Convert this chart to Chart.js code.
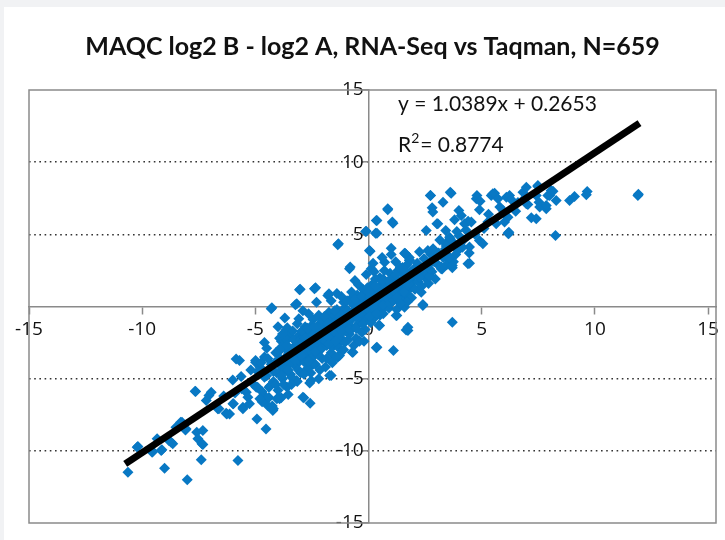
<!DOCTYPE html>
<html>
<head>
<meta charset="utf-8">
<script src="https://cdn.jsdelivr.net/npm/chart.js@4.4.1/dist/chart.umd.min.js"></script>
<style>
  body { margin: 0; background: #f1f2f4; }
  #wrap { position: absolute; left: 4px; top: 7px; width: 721px; height: 533px; background: #fff; }
</style>
</head>
<body>
<div id="wrap"><canvas id="maqc_chart" width="721" height="533"></canvas></div>
<script>
var chartTitle = "MAQC log2 B - log2 A, RNA-Seq vs Taqman, N=659";
var fitText = "y = 1.0389x + 0.2653";
var r2Text = "= 0.8774";
var axisTicks = [-15, -10, -5, 0, 5, 10, 15];
var dottedLevels = [-10, -5, 5, 10];

// Taqman (x) vs RNA-Seq (y)
var points = [
  // lower left tail
  [-10.63,-11.48],[-10.19,-9.70],[-10.22,-9.75],[-9.56,-10.10],[-9.53,-10.05],[-9.34,-9.17],[-9.16,-9.98],
  [-9.13,-9.93],[-9.01,-11.20],[-8.82,-9.29],[-8.72,-9.40],[-8.65,-9.51],[-8.51,-8.37],[-8.30,-8.02],
  [-8.24,-8.02],[-8.09,-8.55],[-8.06,-8.48],[-8.01,-12.01],[-7.66,-5.87],[-7.64,-5.89],[-7.59,-8.71],
  [-7.54,-9.17],[-7.39,-10.62],[-7.36,-9.51],[-7.32,-8.59],[-7.32,-9.56],[-7.17,-6.51],[-7.05,-6.17],
  [-6.95,-5.94],[-6.66,-7.09],[-6.61,-7.09],[-6.29,-7.39],[-6.26,-7.44],[-6.14,-7.44],[-5.99,-6.74],
  [-5.97,-6.74],[-5.85,-3.63],[-5.77,-10.67],[-5.70,-3.74],[-5.63,-4.85],[-5.55,-6.98],[-5.55,-7.09],
  [-5.40,-5.94],[-5.33,-6.28],[-5.26,-6.74],[-5.11,-5.36],[-4.99,-3.86],[-4.99,-3.74],[-4.96,-5.59],
  [-4.93,-7.79],[-4.53,-8.48],[-4.53,-6.28],[-4.46,-6.86],[-4.23,-7.21],[-4.20,-7.09],[-3.93,-6.39],
  [-3.86,-6.33],[-3.30,-5.18],[-3.19,-5.13],[-2.90,-6.28],[-2.86,-6.33],[-2.58,-6.70],[-2.53,-5.13],
  [-2.46,-4.02],[-1.72,-4.78],[-1.65,-4.78],[-1.36,-3.51],[-0.72,-3.17],[-5.2,-4.4],[-5.6,-5.7],
  [-6.0,-5.1],[-6.4,-6.2],[-5.9,-6.0],[-4.7,-6.6],[-4.4,-5.6],
  // upper left of the band
  [-4.30,-0.16],[-4.27,-0.09],[-3.93,-2.2],[-3.64,-1.62],[-3.59,-1.48],[-3.23,0.12],[-3.17,0.19],
  [-3.08,-0.85],[-3.05,1.16],[-3.02,1.20],[-2.39,1.23],[-2.34,1.30],[-1.80,0.76],[-1.75,0.88],
  [-1.36,4.28],[-1.33,4.35],[-0.84,2.61],[-0.81,2.73],[-0.10,2.22],[-0.10,5.22],[-0.13,5.20],
  [0.04,3.88],[0.07,3.83],[0.12,2.61],[0.31,5.08],[0.34,5.96],[0.37,5.96],[0.37,5.08],[0.71,3.07],
  [0.85,6.70],[0.85,6.77],[1.00,4.04],[1.05,5.85],[1.08,5.77],[1.59,3.69],[1.63,3.65],[1.81,3.23],
  // below the band, right side
  [-1.28,-3.40],[-0.69,-3.17],[0.34,-2.86],[0.37,-2.82],[0.49,-1.32],[1.10,-3.05],[1.22,-0.62],
  [1.25,-0.62],[1.59,-0.05],[1.66,-1.62],[1.74,-1.66],[1.74,-1.43],[2.18,2.15],[2.40,0.14],[2.40,0.07],
  [2.33,0.99],[2.25,2.03],[3.70,-1.09],[1.63,0.64],[1.66,0.53],
  // core, x -5 .. -4
  [-4.9,-5.6],[-4.8,-4.2],[-4.7,-5.9],[-4.6,-3.5],[-4.5,-4.8],[-4.4,-6.3],[-4.3,-4.0],[-4.2,-5.2],
  [-4.1,-3.2],[-4.05,-4.6],[-4.9,-4.5],[-4.6,-4.9],[-4.35,-5.5],[-4.15,-3.9],[-4.0,-5.8],[-4.75,-3.9],
  [-4.5,-2.9],[-4.25,-6.9],[-4.45,-3.6],[-4.2,-4.5],[-4.1,-5.4],[-4.8,-6.4],[-4.05,-6.4],[-4.6,-2.5],
  // core, x -4 .. -3
  [-3.95,-3.1],[-3.9,-4.5],[-3.85,-2.4],[-3.8,-5.0],[-3.75,-3.7],[-3.7,-2.9],[-3.65,-4.2],[-3.6,-5.6],
  [-3.55,-3.3],[-3.5,-2.1],[-3.45,-4.7],[-3.4,-3.6],[-3.35,-1.7],[-3.3,-2.8],[-3.25,-4.1],[-3.2,-3.2],
  [-3.15,-5.2],[-3.1,-2.5],[-3.05,-3.8],[-3.0,-1.9],[-3.9,-3.6],[-3.7,-4.4],[-3.5,-3.0],[-3.3,-3.5],
  [-3.1,-4.4],[-3.6,-2.3],[-3.4,-4.9],[-3.2,-2.2],[-3.8,-1.9],[-3.0,-4.6],[-3.45,-3.9],[-3.15,-1.2],
  [-3.55,-6.1],[-3.75,-5.4],[-3.95,-4.0],[-3.65,-3.5],[-3.35,-3.0],[-3.05,-2.7],[-3.85,-4.8],[-3.55,-4.4],
  [-3.25,-3.7],[-3.9,-2.9],[-3.6,-2.7],[-3.3,-2.3],[-3.0,-2.3],[-3.4,-5.4],[-4.0,-1.4],[-3.7,-0.8],
  // core, x -3 .. -2
  [-2.95,-2.9],[-2.9,-3.6],[-2.85,-2.1],[-2.8,-1.4],[-2.75,-3.2],[-2.7,-4.3],[-2.65,-2.6],[-2.6,-1.8],
  [-2.55,-3.5],[-2.5,-2.3],[-2.45,-0.9],[-2.4,-2.9],[-2.35,-4.0],[-2.3,-1.6],[-2.25,-2.5],[-2.2,-3.1],
  [-2.15,-1.2],[-2.1,-2.0],[-2.05,-3.6],[-2.0,-1.5],[-2.9,-2.4],[-2.8,-3.9],[-2.7,-1.9],[-2.6,-3.0],
  [-2.5,-1.3],[-2.4,-3.4],[-2.3,-2.2],[-2.2,-0.6],[-2.1,-2.7],[-2.0,-2.4],[-2.65,-0.5],[-2.35,-1.9],
  [-2.15,-4.4],[-2.75,-2.5],[-2.55,-4.6],[-2.45,-2.0],[-2.25,-3.3],[-2.05,-1.0],[-2.95,-1.7],[-2.85,-4.7],
  [-2.8,-2.2],[-2.55,-2.7],[-2.3,-2.9],[-2.05,-2.2],[-2.95,-3.4],[-2.65,-3.8],[-2.35,-3.1],[-2.05,-2.9],
  [-2.7,-1.5],[-2.4,-1.4],[-2.1,-1.6],[-2.6,-5.3],[-2.2,-5.0],[-2.9,-0.3],[-2.3,0.3],
  // core, x -2 .. -1
  [-1.95,-2.0],[-1.9,-1.1],[-1.85,-2.7],[-1.8,-1.6],[-1.75,-0.4],[-1.7,-2.2],[-1.65,-3.2],[-1.6,-1.3],
  [-1.55,-0.8],[-1.5,-2.1],[-1.45,-1.5],[-1.4,-0.2],[-1.35,-2.6],[-1.3,-1.0],[-1.25,-1.8],[-1.2,-0.5],
  [-1.15,-2.3],[-1.1,-1.2],[-1.05,-0.1],[-1.0,-1.7],[-1.9,-2.4],[-1.8,-0.9],[-1.7,-1.5],[-1.6,-2.8],
  [-1.5,-0.6],[-1.4,-1.9],[-1.3,-2.9],[-1.2,-1.4],[-1.1,0.3],[-1.0,-0.8],[-1.95,-0.7],[-1.75,-1.9],
  [-1.55,-1.7],[-1.35,-0.7],[-1.15,-1.0],[-1.65,0.4],[-1.45,-3.5],[-1.25,-2.2],[-1.05,-2.5],[-1.85,-3.6],
  [-1.5,-1.1],[-1.2,0.7],[-1.8,-2.1],[-1.55,-1.2],[-1.3,-1.5],[-1.05,-1.3],[-1.75,-2.6],[-1.45,-2.4],
  [-1.15,-1.8],[-1.8,-1.2],[-1.5,-0.3],[-1.2,-0.9],[-1.9,-4.2],[-1.6,-3.9],[-1.1,-3.0],[-1.4,0.9],
  // core, x -1 .. 0
  [-0.95,-1.2],[-0.9,-0.3],[-0.85,-1.9],[-0.8,0.5],[-0.75,-0.9],[-0.7,-1.5],[-0.65,0.1],[-0.6,-0.6],
  [-0.55,-2.2],[-0.5,0.8],[-0.45,-0.2],[-0.4,-1.1],[-0.35,0.4],[-0.3,-0.7],[-0.25,1.2],[-0.2,-0.1],
  [-0.15,-1.6],[-0.1,0.6],[-0.05,-0.4],[0.0,0.2],[-0.9,-2.3],[-0.8,-1.4],[-0.7,0.2],[-0.6,-0.2],
  [-0.5,-1.3],[-0.4,0.3],[-0.3,-1.8],[-0.2,0.9],[-0.1,-0.9],[-0.95,0.4],[-0.75,1.0],[-0.55,-0.7],
  [-0.35,-0.4],[-0.15,0.2],[-0.65,-2.7],[-0.45,1.5],[-0.25,-0.1],[-0.05,1.3],[-0.85,-0.5],[-0.5,0.0],
  [-0.2,-2.4],[-0.05,0.5],[-0.8,-0.7],[-0.55,-0.4],[-0.3,0.1],[-0.05,-0.1],[-0.85,-1.6],[-0.55,-1.5],
  [-0.25,-1.2],[-0.9,-0.9],[-0.6,0.5],[-0.3,0.7],[-0.4,-2.4],[-0.6,1.8],
  // core, x 0 .. 1
  [0.05,-0.3],[0.1,0.9],[0.15,0.1],[0.2,1.6],[0.25,-0.8],[0.3,0.5],[0.35,1.1],[0.4,-0.2],
  [0.45,0.7],[0.5,2.0],[0.55,0.2],[0.6,1.3],[0.65,-0.5],[0.7,0.9],[0.75,1.7],[0.8,0.4],
  [0.85,1.1],[0.9,-0.1],[0.95,2.3],[1.0,0.8],[0.1,-1.1],[0.2,0.4],[0.3,1.9],[0.4,0.9],
  [0.5,-0.6],[0.6,0.6],[0.7,2.5],[0.8,1.4],[0.9,0.3],[0.15,1.2],[0.35,-0.1],[0.55,1.5],
  [0.75,0.0],[0.95,1.2],[0.25,2.4],[0.45,-1.3],[0.65,1.9],[0.85,0.6],[0.05,0.7],[0.5,1.0],
  [0.2,0.0],[0.45,0.3],[0.7,0.5],[0.95,0.9],[0.05,-0.7],[0.35,-0.5],[0.65,0.1],[0.95,0.2],
  [0.0,1.0],[0.3,1.4],[0.6,1.8],[0.9,1.8],[0.2,3.0],[0.6,3.4],
  // core, x 1 .. 2
  [1.05,1.5],[1.1,0.4],[1.15,2.1],[1.2,1.0],[1.25,-0.2],[1.3,1.8],[1.35,0.8],[1.4,2.7],
  [1.45,1.3],[1.5,0.5],[1.55,2.2],[1.6,1.6],[1.65,0.9],[1.7,2.9],[1.75,1.9],[1.8,1.2],
  [1.85,2.4],[1.9,0.6],[1.95,1.7],[2.0,2.6],[1.1,1.1],[1.3,2.5],[1.5,1.4],[1.7,0.3],
  [1.9,2.1],[1.2,3.1],[1.4,0.2],[1.6,2.5],[1.8,3.4],[1.25,1.6],[1.65,1.3],[1.85,1.6],
  [1.2,1.3],[1.45,1.8],[1.7,1.6],[1.95,2.2],[1.25,0.6],[1.55,1.0],[1.2,2.2],[1.5,2.7],
  [1.8,2.0],[1.0,3.6],
  // core, x 2 .. 4.5
  [2.05,1.2],[2.1,2.2],[2.15,3.0],[2.2,1.7],[2.3,2.7],[2.35,1.4],[2.45,3.3],[2.5,2.0],
  [2.6,2.9],[2.65,1.6],[2.75,3.6],[2.8,2.4],[2.9,3.1],[2.95,1.9],[2.25,3.8],[2.55,2.5],
  [2.85,4.0],[2.4,2.3],[2.7,2.1],[3.0,3.0],[3.1,3.7],[3.25,2.6],[3.4,4.0],[3.55,3.2],
  [3.7,4.5],[3.85,3.6],[4.0,4.9],[4.15,4.1],[4.3,5.3],[4.45,3.7],[3.3,3.4],[3.6,4.7],
  [3.9,5.2],[4.2,4.6],[3.15,4.6],[3.45,2.9],[4.4,5.9],[3.75,3.1],[2.2,2.4],[2.45,2.7],
  [2.7,2.6],
  // upper right cluster
  [1.63,3.65],[1.81,3.19],[2.25,2.03],[2.55,5.27],[2.62,3.88],[2.70,2.96],[2.73,7.69],[2.74,7.69],
  [2.81,6.84],[2.84,6.54],[3.02,5.73],[3.06,5.73],[3.21,2.61],[3.21,2.75],[3.29,7.23],[3.41,5.27],
  [3.41,4.35],[3.43,4.2],[3.58,4.80],[3.58,3.42],[3.61,7.92],[3.65,7.85],[3.70,2.68],[3.70,2.84],
  [3.80,6.01],[3.95,3.88],[3.99,6.65],[4.10,6.31],[4.24,5.73],[4.39,2.96],[4.46,4.12],[4.46,3.00],
  [4.54,5.85],[4.76,7.46],[4.79,7.69],[4.90,6.70],[4.90,4.57],[4.93,7.30],[5.05,4.35],[5.27,5.85],
  [5.42,7.69],[5.49,7.81],[5.57,7.85],[5.64,5.73],[5.72,7.46],[5.94,6.65],[6.01,5.85],[6.09,7.57],
  [6.16,6.19],[6.16,5.08],[6.19,5.04],[6.20,5.15],[6.23,7.69],[6.31,7.39],[6.82,7.92],[6.97,8.27],
  [6.97,7.12],[7.04,7.07],[7.19,6.15],[7.41,6.08],[7.41,7.69],[7.48,8.32],[7.48,8.39],[7.53,7.23],
  [7.56,6.89],[7.85,6.77],[7.85,7.00],[7.92,7.69],[8.00,7.69],[8.07,8.04],[8.15,7.99],[8.26,4.92],
  [8.29,7.35],[8.88,7.35],[9.10,7.62],[9.62,7.74],[9.66,7.97],[11.90,7.69],[11.92,7.78],
  [5.3,6.4],[5.8,6.9],[6.5,6.6],[6.6,7.2],[5.1,5.4],[4.7,5.0],[6.9,7.5]
];

// ends of the black fit line
var trendX = [-10.75, 11.97];
var trendY = [-10.9, 12.7];

var ctx = document.getElementById("maqc_chart").getContext('2d');

var framePlugin = {
  id: 'frame',
  beforeDatasetsDraw: function(chart) {
    var a = chart.chartArea, c = chart.ctx;
    c.save();
    c.strokeStyle = '#8a8a8a';
    c.lineWidth = 1.5;
    c.strokeRect(a.left, a.top, a.right - a.left, a.bottom - a.top);
    c.restore();
  },
  afterDraw: function(chart) {
    var c = chart.ctx;
    c.save();
    c.fillStyle = '#111';
    c.textBaseline = 'middle';
    c.font = '21px Lato';
    c.fillText(fitText, 394, 97);
    c.fillText('R', 394, 138);
    var w = c.measureText('R').width;
    c.font = '14px Lato';
    c.fillText('2', 394 + w, 131);
    var w2 = c.measureText('2').width;
    c.font = '21px Lato';
    c.fillText(r2Text, 394 + w + w2 + 1, 138);
    c.restore();
  }
};

var maqc_chart = new Chart(ctx, {
  data: {
    datasets: [{
      type: 'line',
      data: trendX.map(function(x, i) { return {x: x, y: trendY[i]}; }),
      borderColor: '#000',
      borderWidth: 7,
      pointRadius: 0,
      order: 0
    }, {
      type: 'scatter',
      data: points.map(function(p) { return {x: p[0], y: p[1]}; }),
      backgroundColor: '#0878c4',
      borderWidth: 0,
      pointStyle: 'rectRot',
      pointRadius: 5.5,
      order: 1
    }]
  },
  plugins: [framePlugin],
  options: {
    responsive: false,
    animation: false,
    layout: { padding: { left: 25, right: 9, top: 0, bottom: 17 } },
    plugins: {
      legend: { display: false },
      tooltip: { enabled: false },
      title: {
        display: true,
        text: chartTitle,
        fullSize: false,
        color: '#111',
        font: { family: 'Lato', size: 25, weight: 'bold', lineHeight: 1.2 },
        padding: { top: 25, bottom: 28 }
      }
    },
    scales: {
      x: {
        type: 'linear',
        min: -15,
        max: 15.35,
        position: { y: 0 },
        afterBuildTicks: function(s) { s.ticks = axisTicks.map(function(v) { return {value: v}; }); },
        ticks: { includeBounds: false, color: '#111', padding: 5, font: { family: 'Open Sans', size: 19 } },
        grid: { drawOnChartArea: false, tickLength: 7, tickColor: '#8a8a8a', tickWidth: 1.5 },
        border: { color: '#8a8a8a', width: 1.5 }
      },
      y: {
        type: 'linear',
        min: -15,
        max: 15,
        position: { x: 0 },
        afterBuildTicks: function(s) { s.ticks = axisTicks.map(function(v) { return {value: v}; }); },
        ticks: {
          color: '#111',
          font: { family: 'Open Sans', size: 19 },
          callback: function(v) { return v + ' '; }
        },
        grid: {
          color: function(c) { return c.tick && dottedLevels.indexOf(c.tick.value) >= 0 ? '#333' : 'rgba(0,0,0,0)'; },
          lineWidth: 1.6,
          tickLength: 6,
          tickColor: '#8a8a8a',
          tickWidth: 1.5
        },
        border: { color: '#8a8a8a', width: 1.5, dash: [1.6, 3.6] }
      }
    }
  }
});
</script>
</body>
</html>
